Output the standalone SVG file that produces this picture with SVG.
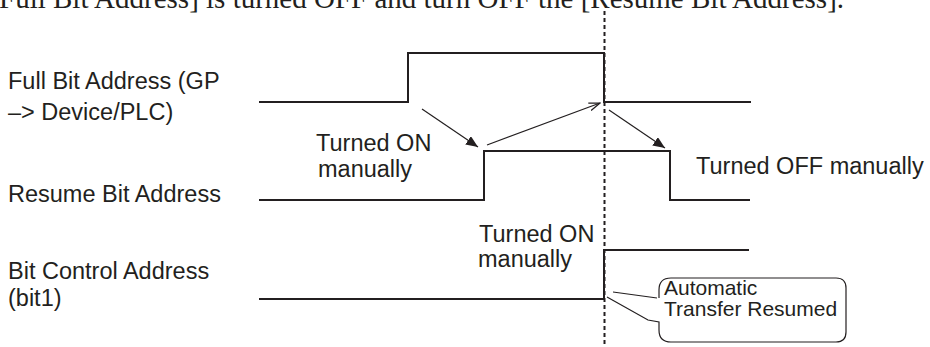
<svg xmlns="http://www.w3.org/2000/svg" width="930" height="347" viewBox="0 0 930 347">
<defs>
<style>
.lbl{font-family:"Liberation Sans",Arial,sans-serif;font-size:23.5px;fill:#231f20}
.co{font-family:"Liberation Sans",Arial,sans-serif;font-size:21px;fill:#231f20}
.top{font-family:"Liberation Serif","Times New Roman",serif;font-size:29px;fill:#231f20}
.wave{fill:none;stroke:#231f20;stroke-width:2}
.arr{fill:none;stroke:#231f20;stroke-width:1.2}
</style>
<marker id="tri" viewBox="0 0 12 10" refX="12" refY="5" markerWidth="12" markerHeight="10" markerUnits="userSpaceOnUse" orient="auto">
<path d="M0,0 L12,5 L0,10 Z" fill="#231f20"/>
</marker>
<marker id="open" viewBox="0 0 12 10" refX="11" refY="5" markerWidth="12" markerHeight="10" markerUnits="userSpaceOnUse" orient="auto">
<path d="M0,1 L11,5 L0,9" fill="none" stroke="#231f20" stroke-width="1.2"/>
</marker>
</defs>
<rect width="930" height="347" fill="#ffffff"/>
<text class="top" x="-1" y="8">Full Bit Address] is turned OFF and turn OFF the [Resume Bit Address].</text>

<g id="full-bit">
<text class="lbl" x="8" y="89">Full Bit Address (GP</text>
<text class="lbl" x="8" y="120">&#8211;&gt; Device/PLC)</text>
<path class="wave" d="M259,102 H408 V53 H604 V102 H751"/>
</g>
<g id="resume-bit">
<text class="lbl" x="8" y="202">Resume Bit Address</text>
<path class="wave" d="M259,200 H484 V151 H670 V200 H750"/>
</g>
<g id="bit-control">
<text class="lbl" x="8" y="279">Bit Control Address</text>
<text class="lbl" x="8" y="306">(bit1)</text>
<path class="wave" d="M259,299 H604 V250 H749"/>
</g>
<g id="note-on-1">
<text class="lbl" x="316" y="151">Turned ON</text>
<text class="lbl" x="318" y="177">manually</text>
</g>
<g id="note-off">
<text class="lbl" x="696" y="174">Turned OFF manually</text>
</g>
<g id="note-on-2">
<text class="lbl" x="479" y="242">Turned ON</text>
<text class="lbl" x="478" y="267">manually</text>
</g>
<g id="callout">
<path d="M657,298 L613,292 M607,297 L648,320 L659,322 V330 Q659,342 671,342 H836 Q846,342 846,332 V288 Q846,278 836,278 H671 Q659,278 659,290 V298" fill="none" stroke="#231f20" stroke-width="1.2"/>
<text class="co" x="664" y="295">Automatic</text>
<text class="co" x="664" y="316">Transfer Resumed</text>
</g>

<g id="connectors">
<line x1="604.5" y1="11" x2="604.5" y2="347" stroke="#231f20" stroke-width="2" stroke-dasharray="4 3"/>
<line class="arr" x1="422" y1="109" x2="478" y2="147" marker-end="url(#tri)"/>
<line class="arr" x1="487" y1="145" x2="600" y2="103" marker-end="url(#open)"/>
<line class="arr" x1="609" y1="110" x2="665" y2="148" marker-end="url(#tri)"/>
</g>
</svg>
